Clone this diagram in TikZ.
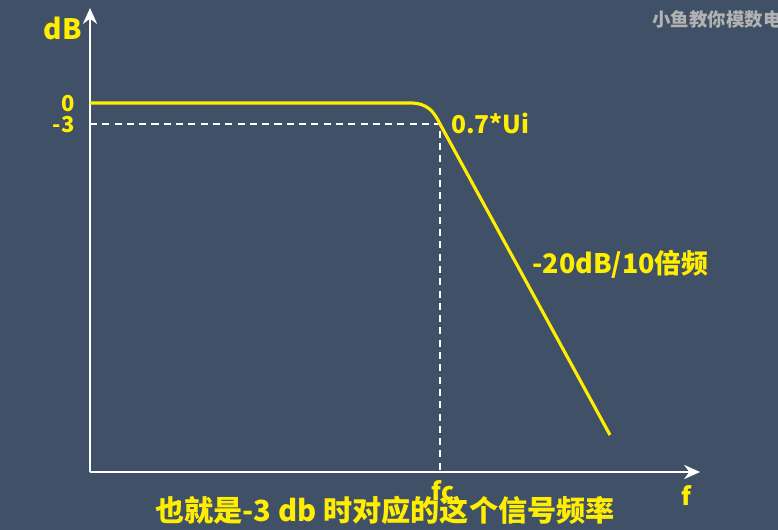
\documentclass[tikz,border=0pt]{standalone}
\usepackage{fontspec}
\setmainfont{Noto Sans CJK SC}
\usepackage{xcolor}
\usepackage{tikz}
\usetikzlibrary{calc,arrows.meta}
\definecolor{bgblue}{RGB}{64,80,102}
\definecolor{curveyellow}{RGB}{255,238,0}

\begin{document}
\begin{tikzpicture}[x=0.02cm,y=-0.02cm,
  lbl/.style={text=curveyellow,font=\bfseries\fontsize{14}{16}\selectfont,inner sep=0pt},
  guide/.style={white,line width=0.7pt,dash pattern=on 4pt off 3pt}]
\fill[bgblue] (0,0) rectangle (778,530);
\useasboundingbox (0,0) rectangle (778,530);
\coordinate (O) at (90,472);
\coordinate (ytop) at (90,8);
\coordinate (xend) at (700,472);
\coordinate (c0) at (90,103);
\coordinate (cknee) at (410,103);
\coordinate (c3) at (440,124);
\coordinate (cend) at (610,435);
\coordinate (m3) at (90,124);
\coordinate (fcb) at (440,472);

% axes
\draw[white,line width=1.6pt,-{Stealth[length=9pt,width=8pt]}] (O) -- (ytop);
\draw[white,line width=1.6pt,-{Stealth[length=9pt,width=8pt]}] (O) -- (xend);

% -3 dB guides
\draw[guide] (m3) -- (c3) -- (fcb);

% response
\draw[curveyellow,line width=1.8pt] (c0) -- (cknee) .. controls (428,103) and (434,112) .. (c3) -- (cend);

\node[lbl,font=\bfseries\fontsize{16}{18}\selectfont] (dB) at (63,28) {dB};
\node[lbl,font=\bfseries\fontsize{12.5}{14}\selectfont,anchor=east] (zero) at (75,104) {0};
\node[lbl,font=\bfseries\fontsize{12.5}{14}\selectfont,anchor=east] (minus3) at (75,125) {-3};
\node[lbl,anchor=west] (point) at (451,123) {0.7*Ui};
\node[lbl,font=\bfseries\fontsize{15.3}{17}\selectfont,anchor=west] (slope) at (532,264) {-20dB/10倍频};
\node[lbl] (fc) at (443,491) {fc};
\node[lbl] (f) at (686,496) {f};
\node[text=gray!60,font=\bfseries\fontsize{10.5}{12}\selectfont,anchor=west,inner sep=0pt] (mark) at (652,19) {小鱼教你模数电};
\node[lbl,font=\bfseries\fontsize{16.6}{18}\selectfont] (sub) at (385,510) {也就是-3 db 时对应的这个信号频率};
\end{tikzpicture}
\end{document}
